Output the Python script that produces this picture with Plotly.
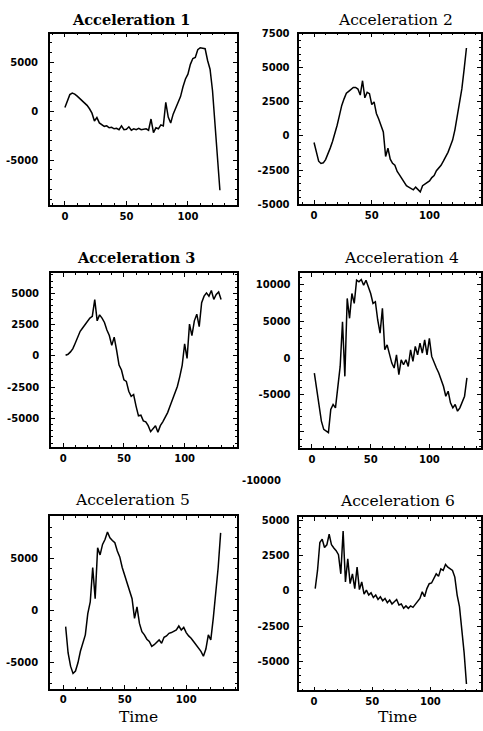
import plotly.graph_objects as go

# ---- data -------------------------------------------------------------
TITLES = ["Acceleration 1", "Acceleration 2", "Acceleration 3",
          "Acceleration 4", "Acceleration 5", "Acceleration 6"]
X_LABEL = "Time"

TIME_1 = list(range(0, 127, 2))
ACC_1 = [370, 1100, 1700, 1850, 1750, 1550, 1300, 1150, 800, 600,
         250, -200, -1000, -650, -1200, -1400, -1550, -1500, -1700, -1650,
         -1800, -1750, -1900, -1500, -1900, -1850, -1600, -1950, -1800, -1900,
         -1750, -1900, -1850, -1800, -1950, -800, -2200, -1700, -1800, -1400,
         -1500, 900, -600, -1200, -300, 300, 800, 1500, 2500, 3300,
         3800, 4800, 5400, 5500, 6300, 6500, 6450, 6400, 5200, 4300,
         2100, -1200, -4300, -8100]

TIME_2 = list(range(0, 133, 2))
ACC_2 = [-480, -1250, -1850, -2020, -1970, -1730, -1370, -890, -410, 140,
         790, 1510, 2240, 2720, 3130, 3270, 3440, 3560, 3560, 3440,
         3000, 4050, 2800, 3200, 3100, 2300, 2500, 1650, 1250, 700,
         300, -1500, -900, -1700, -2000, -2150, -2600, -2850, -3150, -3400,
         -3650, -3750, -3850, -3950, -3750, -3900, -4100, -3650, -3550, -3400,
         -3300, -3050, -2900, -2550, -2350, -2150, -1850, -1550, -1200, -750,
         -300, 450, 1400, 2350, 3450, 4900, 6450]

TIME_3 = list(range(2, 131, 2))
ACC_3 = [50, 130, 320, 580, 1030, 1500, 1970, 2240, 2500, 2760,
         3030, 3180, 4520, 2810, 3290, 3030, 2680, 2080, 1630, 840,
         1500, 450, -740, -1130, -1920, -2050, -2840, -3240, -3100, -4030,
         -4810, -4760, -5210, -5290, -5600, -6080, -5810, -5600, -6130, -5600,
         -5290, -4950, -4550, -4030, -3500, -3030, -2450, -1660, -740, 970,
         -210, 2550, 1630, 2810, 3340, 2340, 4260, 4790, 5050, 4790,
         5240, 4530, 4920, 5130, 4530]

TIME_4 = list(range(2, 133, 2))
ACC_4 = [-2030, -4280, -6530, -8560, -9690, -9910, -10140, -6980, -6310, -6760,
         -3830, -1130, 4950, -2480, 8110, 5410, 8780, 7430, 10590, 10360,
         10680, 9910, 10590, 9690, 8780, 7430, 7660, 5180, 3380, 6760,
         1130, 1800, 450, -680, -1350, 450, -2250, -230, -900, -230,
         -1130, 1130, -450, 1580, 450, 2030, 680, 2480, 450, 2700,
         230, -680, -1350, -2030, -2930, -3830, -5180, -4500, -6080, -6760,
         -6310, -7210, -6760, -6080, -5180, -2700]

TIME_5 = list(range(2, 129, 2))
ACC_5 = [-1580, -4110, -5380, -6080, -5850, -5060, -3950, -3170, -2370, -320,
         790, 4110, 1110, 6010, 5320, 6330, 6800, 7530, 6960, 6710,
         6490, 5700, 5130, 4110, 3320, 2530, 1740, 1110, -790, 320,
         -1270, -2060, -2370, -2790, -3010, -3480, -3320, -3100, -2850, -3170,
         -2600, -2470, -2220, -2150, -2060, -1900, -1520, -1900, -1650, -2150,
         -2470, -2690, -3010, -3320, -3640, -3950, -4430, -3730, -2370, -2850,
         -790, 1580, 4110, 7440]

TIME_6 = list(range(1, 132, 2))
ACC_6 = [160, 1450, 3430, 3670, 3080, 3270, 4020, 3270, 3040, 2850,
         2570, 1210, 4250, 630, 2270, 510, 1210, 160, 1680, 90,
         630, -230, 50, -300, -140, -470, -300, -610, -420, -700,
         -540, -840, -650, -930, -770, -610, -1000, -930, -1240, -1070,
         -1240, -1070, -1170, -930, -770, -540, -70, -420, 160, 510,
         560, 860, 1210, 1030, 1560, 1450, 1870, 1680, 1560, 1450,
         980, -300, -1120, -2760, -4390, -6610]

X_TICKS = [0, 50, 100]
Y_TICKS = [
    [-5000, 0, 5000],
    [-5000, -2500, 0, 2500, 5000, 7500],
    [-5000, -2500, 0, 2500, 5000],
    [-10000, -5000, 0, 5000, 10000],
    [-5000, 0, 5000],
    [-5000, -2500, 0, 2500, 5000],
]

TIMES = [TIME_1, TIME_2, TIME_3, TIME_4, TIME_5, TIME_6]
SERIES = [ACC_1, ACC_2, ACC_3, ACC_4, ACC_5, ACC_6]

# ---- layout -------------------------------------------------------------
W, H = 483, 731

# panel frames in pixels: left, right, top, bottom
FRAMES = [(50, 237, 29, 203), (300, 482, 29, 202),
          (51, 237, 272, 448), (301, 482, 272, 449),
          (50, 237, 518, 693), (300, 482, 519, 695)]
X_RANGES = [(-12.2, 139.5), (-12.7, 144.6), (-10.1, 142.7),
            (-9.9, 144.0), (-10.8, 140.9), (-12.6, 143.5)]
Y_RANGES = [(-9630, 7950), (-5005, 7505), (-7300, 6625),
            (-12200, 11530), (-7530, 9070), (-7070, 5250)]
TITLE_POS = [(131, 15), (396, 15), (136, 256), (402, 257), (133, 502), (398, 503)]
TITLE_BOLD = [True, False, True, False, False, False]
XLABEL_POS = [(139, 722), (398, 722)]

SERIF = "DejaVu Serif"
TICK_FONT = dict(family="DejaVu Sans", size=10, color="black", weight="bold")


def px_x(x):
    return x / W


def px_y(y):
    return 1 - y / H


fig = go.Figure()
layout = dict(
    width=W, height=H,
    margin=dict(l=0, r=0, t=0, b=0),
    paper_bgcolor="white", plot_bgcolor="white",
    showlegend=False,
)
annotations = []

for i in range(6):
    suffix = "" if i == 0 else str(i + 1)
    left, right, top, bottom = FRAMES[i]

    fig.add_trace(go.Scatter(
        x=TIMES[i], y=SERIES[i], mode="lines",
        line=dict(color="black", width=1.5),
        xaxis="x" + suffix, yaxis="y" + suffix,
        hoverinfo="skip",
    ))

    yt = Y_TICKS[i]
    ytext = [str(v) if not (i == 3 and v == -10000) else "" for v in yt]
    y_step = yt[1] - yt[0]

    layout["xaxis" + suffix] = dict(
        domain=[px_x(left), px_x(right)],
        range=list(X_RANGES[i]), anchor="y" + suffix,
        showgrid=False, zeroline=False,
        showline=True, linecolor="black", linewidth=1.6, mirror="ticks",
        ticks="inside", ticklen=4, tickwidth=1, tickcolor="black",
        tickvals=X_TICKS, ticktext=[str(v) for v in X_TICKS],
        minor=dict(ticks="inside", ticklen=2, tickwidth=1, tickcolor="black",
                   dtick=10, tick0=0, showgrid=False),
        tickfont=TICK_FONT, ticklabelstandoff=1,
    )
    layout["yaxis" + suffix] = dict(
        domain=[px_y(bottom), px_y(top)],
        range=list(Y_RANGES[i]), anchor="x" + suffix,
        showgrid=False, zeroline=False,
        showline=True, linecolor="black", linewidth=1.6, mirror="ticks",
        ticks="inside", ticklen=4, tickwidth=1, tickcolor="black",
        tickvals=yt, ticktext=ytext,
        minor=dict(ticks="inside", ticklen=2, tickwidth=1, tickcolor="black",
                   dtick=y_step / 5, tick0=0, showgrid=False),
        tickfont=TICK_FONT, ticklabelstandoff=8 if i % 2 == 0 else 6,
    )

    tx, ty = TITLE_POS[i]
    annotations.append(dict(
        x=px_x(tx), y=px_y(ty), xref="paper", yref="paper",
        text=f"<b>{TITLES[i]}</b>" if TITLE_BOLD[i] else TITLES[i],
        showarrow=False, xanchor="center", yanchor="middle",
        font=dict(family=SERIF, size=15.5 if not TITLE_BOLD[i] else 14.5, color="black"),
    ))

# time labels under the bottom row
for tx, ty in XLABEL_POS:
    annotations.append(dict(
        x=px_x(tx), y=px_y(ty), xref="paper", yref="paper",
        text=X_LABEL, showarrow=False, xanchor="center", yanchor="middle",
        font=dict(family=SERIF, size=15.5, color="black"),
    ))

# lowest tick label of panel 4, set apart below its frame
annotations.append(dict(
    x=px_x(284), y=px_y(482.5), xref="paper", yref="paper",
    text="-10000", showarrow=False, xanchor="right", yanchor="middle",
    font=TICK_FONT,
))

layout["annotations"] = annotations
fig.update_layout(**layout)
fig.write_html("out.html")
